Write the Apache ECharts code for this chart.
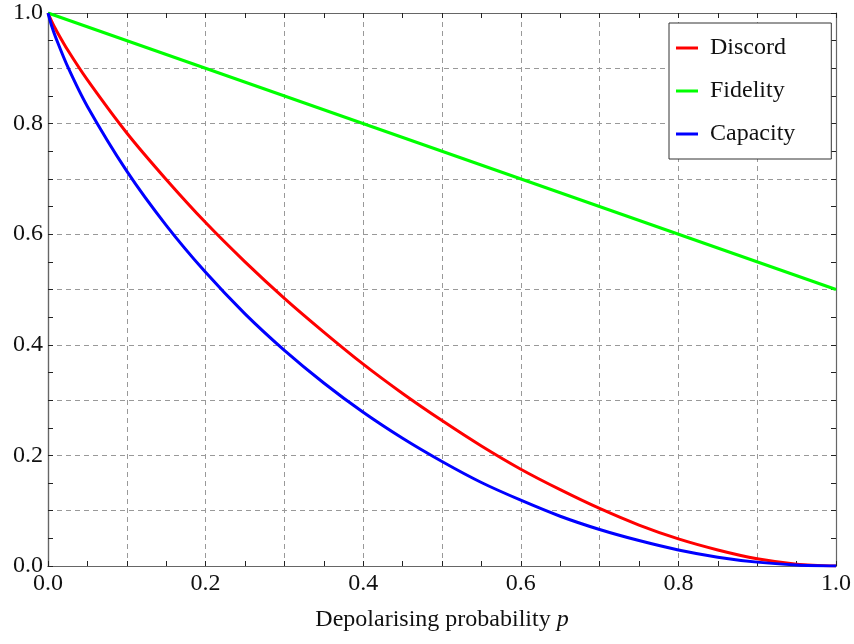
<!DOCTYPE html>
<html>
<head>
<meta charset="utf-8">
<script src="https://cdn.jsdelivr.net/npm/echarts@6/dist/echarts.min.js"></script>
<style>
  html, body { margin: 0; padding: 0; background: #fff; }
  #chart { width: 854px; height: 644px; }
</style>
</head>
<body>
<div id="chart"></div>
<script>
// depolarising probability p
const pValues = [0, 0.005, 0.01, 0.025, 0.05, 0.1, 0.15, 0.2, 0.25, 0.3, 0.35, 0.4, 0.45, 0.5,
  0.55, 0.6, 0.65, 0.7, 0.75, 0.8, 0.85, 0.9, 0.95, 1.0]
const discord = [1.0, 0.984, 0.970, 0.933, 0.879, 0.783, 0.699, 0.621, 0.550, 0.484, 0.423, 0.365, 0.312, 0.263,
  0.217, 0.175, 0.138, 0.104, 0.074, 0.049, 0.029, 0.013, 0.0034, 0]
const capacity = [1.0, 0.975, 0.955, 0.903, 0.831, 0.714, 0.616, 0.531, 0.456, 0.390, 0.331, 0.278, 0.231, 0.189,
  0.151, 0.119, 0.090, 0.066, 0.046, 0.029, 0.016, 0.007, 0.002, 0]
const fidelityP = [0, 1.0]
const fidelity = [1.0, 0.5]
const seriesNames = ['Discord', 'Fidelity', 'Capacity']
const seriesColors = ['#ff0000', '#00ff00', '#0000ff']

const font = '"Liberation Serif", "DejaVu Serif", serif'
const fontSize = 24
const chart = echarts.init(document.getElementById('chart'))

const pair = (xs, ys) => xs.map((x, i) => [x, ys[i]])

const tickLabel = v => {
  const k = Math.round(v * 10)
  return k % 2 === 0 ? (k / 10).toFixed(1) : ''
}

const gridDash = { color: '#999', type: [5, 4], width: 1 }

// main axis: labels + dashed grid, no ticks
function mainAxis(pos) {
  return {
    type: 'value',
    position: pos,
    min: 0,
    max: 1,
    interval: 0.1,
    axisLine: { show: true, onZero: false, lineStyle: { color: '#666', width: 1.2 } },
    axisTick: { show: false },
    splitLine: { show: true, lineStyle: gridDash },
    axisLabel: { show: true, formatter: tickLabel, fontFamily: font, fontSize: fontSize, color: '#111' }
  }
}

// tick-only axis, every 0.05, ticks pointing inwards
function tickAxis(pos) {
  return {
    type: 'value',
    position: pos,
    min: 0,
    max: 1,
    interval: 0.05,
    axisLine: { show: true, onZero: false, lineStyle: { color: '#666', width: 1.2 } },
    axisTick: { show: true, inside: true, length: 5, lineStyle: { color: '#222', width: 1 } },
    splitLine: { show: false },
    axisLabel: { show: false }
  }
}

const xMain = Object.assign(mainAxis('bottom'), {
  name: '{n|Depolarising probability }{i|p}',
  nameLocation: 'middle',
  nameGap: 42,
  nameTextStyle: {
    rich: {
      n: { fontFamily: font, fontSize: fontSize, color: '#111' },
      i: { fontFamily: font, fontSize: fontSize, fontStyle: 'italic', color: '#111' }
    }
  }
})
xMain.axisLabel.margin = 6
const yMain = mainAxis('left')
yMain.axisLabel.margin = 5

const lineSeries = (name, data, color) => ({
  name: name,
  type: 'line',
  data: data,
  smooth: 0.3,
  symbol: 'none',
  lineStyle: { color: color, width: 3 },
  itemStyle: { color: color },
  xAxisIndex: 0,
  yAxisIndex: 0
})

const option = {
  animation: false,
  backgroundColor: '#fff',
  grid: { left: 48, right: 17, top: 13, bottom: 78 },
  xAxis: [xMain, tickAxis('bottom'), tickAxis('top')],
  yAxis: [yMain, tickAxis('left'), tickAxis('right')],
  legend: {
    data: seriesNames,
    orient: 'vertical',
    left: 669,
    top: 23,
    padding: [13, 36, 13, 7],
    itemGap: 19,
    itemWidth: 22,
    itemHeight: 3,
    icon: 'rect',
    backgroundColor: '#fff',
    borderColor: '#333',
    borderWidth: 1,
    textStyle: { fontFamily: font, fontSize: fontSize, color: '#111', lineHeight: 24, padding: [0, 0, 0, 7] }
  },
  series: [
    lineSeries(seriesNames[0], pair(pValues, discord), seriesColors[0]),
    lineSeries(seriesNames[1], pair(fidelityP, fidelity), seriesColors[1]),
    lineSeries(seriesNames[2], pair(pValues, capacity), seriesColors[2])
  ]
}

chart.setOption(option)
</script>
</body>
</html>
